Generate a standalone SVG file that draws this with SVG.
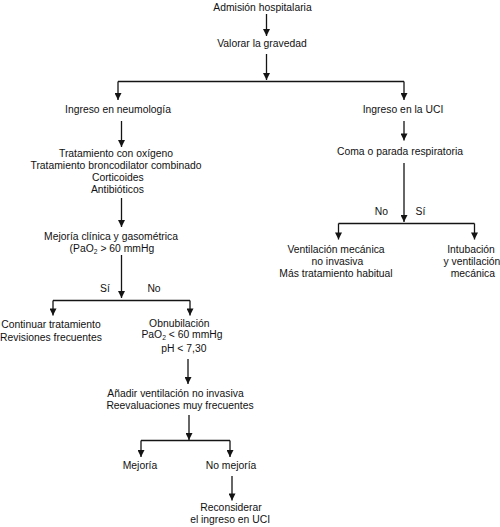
<svg xmlns="http://www.w3.org/2000/svg" width="500" height="527" viewBox="0 0 500 527">
<style>
text{font-family:"Liberation Sans",Arial,sans-serif;font-size:11.5px;fill:#111;text-anchor:middle}
.sub{font-size:7.5px}
.c line,.c path{stroke:#141414;stroke-width:1.3;fill:none}
</style>
<defs>
<marker id="ah" viewBox="0 0 10 10" refX="10" refY="5" markerWidth="9" markerHeight="7" markerUnits="userSpaceOnUse" orient="auto">
<path d="M0,0 L10,5 L0,10 z" fill="#141414"/>
</marker>
</defs>
<rect width="500" height="527" fill="#fff"/>
<g class="c" id="connectors">
<line x1="266.5" y1="14" x2="266.5" y2="36" marker-end="url(#ah)"/>
<line x1="266.5" y1="54" x2="266.5" y2="80" marker-end="url(#ah)"/>
<path d="M118,81.5 H404"/>
<line x1="118" y1="81.5" x2="118" y2="100" marker-end="url(#ah)"/>
<line x1="404" y1="81.5" x2="404" y2="100" marker-end="url(#ah)"/>
<line x1="121.5" y1="121" x2="121.5" y2="147" marker-end="url(#ah)"/>
<line x1="121.5" y1="198" x2="121.5" y2="227" marker-end="url(#ah)"/>
<line x1="121.5" y1="255" x2="121.5" y2="298" marker-end="url(#ah)"/>
<path d="M53,300.5 H190"/>
<line x1="53" y1="300.5" x2="53" y2="315.5" marker-end="url(#ah)"/>
<line x1="190" y1="300.5" x2="190" y2="315.5" marker-end="url(#ah)"/>
<line x1="188" y1="359" x2="188" y2="384" marker-end="url(#ah)"/>
<line x1="189" y1="415" x2="189" y2="440" marker-end="url(#ah)"/>
<path d="M141,440.5 H230"/>
<line x1="141" y1="440.5" x2="141" y2="457" marker-end="url(#ah)"/>
<line x1="230" y1="440.5" x2="230" y2="457" marker-end="url(#ah)"/>
<line x1="232" y1="476" x2="232" y2="500.5" marker-end="url(#ah)"/>
<line x1="404" y1="121" x2="404" y2="140.5" marker-end="url(#ah)"/>
<line x1="404" y1="163" x2="404" y2="222" marker-end="url(#ah)"/>
<path d="M338.5,223.5 H474.5"/>
<line x1="338.5" y1="223.5" x2="338.5" y2="239.5" marker-end="url(#ah)"/>
<line x1="474.5" y1="223.5" x2="474.5" y2="239.5" marker-end="url(#ah)"/>
</g>
<g id="n-admision" transform="translate(262.5 0) scale(0.9 1)"><text x="0" y="10.5">Admisión hospitalaria</text></g>
<g id="n-valorar" transform="translate(262 0) scale(0.9 1)"><text x="0" y="47">Valorar la gravedad</text></g>
<g id="n-neumologia" transform="translate(118 0) scale(0.9 1)"><text x="0" y="113">Ingreso en neumología</text></g>
<g id="n-uci" transform="translate(403 0) scale(0.9 1)"><text x="0" y="113">Ingreso en la UCI</text></g>
<g id="n-tratamiento" transform="translate(116 0) scale(0.9 1)">
<text x="0" y="157">Tratamiento con oxígeno</text>
<text x="0" y="169">Tratamiento broncodilator combinado</text>
<text x="2" y="181">Corticoides</text>
<text x="1.5" y="193.5">Antibióticos</text>
</g>
<g id="n-mejoria-clinica" transform="translate(111 0) scale(0.9 1)">
<text x="0" y="240.5">Mejoría clínica y gasométrica</text>
<text x="1" y="252">(PaO<tspan class="sub" dy="2">2</tspan><tspan dy="-2"> &gt; 60 mmHg</tspan></text>
</g>
<g id="l-si-no-1">
<text x="105" y="292" transform="translate(10.5 0) scale(0.9 1)">Sí</text>
<text x="154" y="292" transform="translate(15.4 0) scale(0.9 1)">No</text>
</g>
<g id="n-continuar" transform="translate(51 0) scale(0.9 1)">
<text x="0" y="328.5">Continuar tratamiento</text>
<text x="0" y="341.5">Revisiones frecuentes</text>
</g>
<g id="n-obnubilacion" transform="translate(182 0) scale(0.9 1)">
<text x="-3" y="327">Obnubilación</text>
<text x="0" y="338.5">PaO<tspan class="sub" dy="1.5">2</tspan><tspan dy="-1.5"> &lt; 60 mmHg</tspan></text>
<text x="2" y="352">pH &lt; 7,30</text>
</g>
<g id="n-anadir" transform="translate(180 0) scale(0.9 1)">
<text x="-5" y="397">Añadir ventilación no invasiva</text>
<text x="0" y="409.5">Reevaluaciones muy frecuentes</text>
</g>
<g id="n-mejoria" transform="translate(140 0) scale(0.9 1)"><text x="0" y="469.5">Mejoría</text></g>
<g id="n-no-mejoria" transform="translate(231 0) scale(0.9 1)"><text x="0" y="469.5">No mejoría</text></g>
<g id="n-reconsiderar" transform="translate(231 0) scale(0.9 1)">
<text x="0" y="511.5">Reconsiderar</text>
<text x="-1" y="523.5">el ingreso en UCI</text>
</g>
<g id="n-coma" transform="translate(400 0) scale(0.9 1)"><text x="0" y="155.5">Coma o parada respiratoria</text></g>
<g id="l-no-si-2">
<text x="381.5" y="215.5" transform="translate(38.15 0) scale(0.9 1)">No</text>
<text x="420.5" y="215.5" transform="translate(42.05 0) scale(0.9 1)">Sí</text>
</g>
<g id="n-ventilacion" transform="translate(336 0) scale(0.9 1)">
<text x="0" y="253.5">Ventilación mecánica</text>
<text x="1.5" y="265.5">no invasiva</text>
<text x="0" y="277.5">Más tratamiento habitual</text>
</g>
<g id="n-intubacion" transform="translate(471 0) scale(0.9 1)">
<text x="0" y="253.5">Intubación</text>
<text x="1" y="265.5">y ventilación</text>
<text x="2" y="277.5">mecánica</text>
</g>
</svg>
